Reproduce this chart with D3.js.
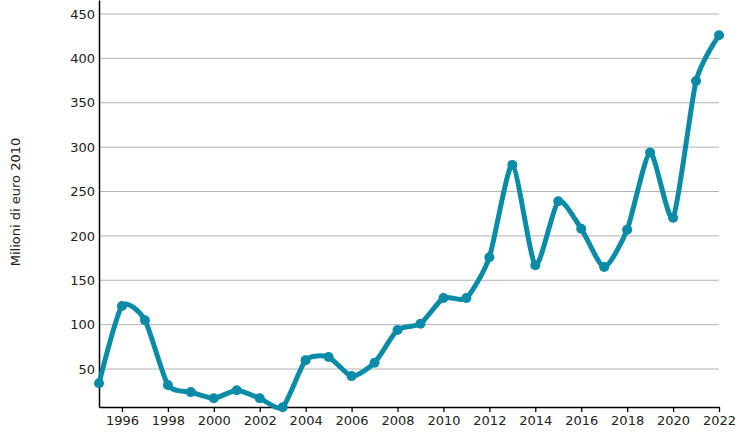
<!DOCTYPE html>
<html><head><meta charset="utf-8">
<script src="https://cdn.jsdelivr.net/npm/d3@7"></script>
<style>body{margin:0;background:#fff}svg{display:block;font-family:"DejaVu Sans",sans-serif}</style>
</head><body><svg id="c" width="753" height="439"></svg>
<script>
const years = [1995,1996,1997,1998,1999,2000,2001,2002,2003,2004,2005,2006,2007,2008,2009,2010,2011,2012,2013,2014,2015,2016,2017,2018,2019,2020,2021,2022];
const values = [34,121,105,32,24,17,26,17,7,60,63.5,42,57,94,101,130,130,176,280,167,239,208,165,207,294,220.5,374.5,426];
const yTicks = [50,100,150,200,250,300,350,400,450];
const xTicks = [1996,1998,2000,2002,2004,2006,2008,2010,2012,2014,2016,2018,2020,2022];
const yLabel = "Milioni di euro 2010";

const svg = d3.select("#c");
const L=99, R=719, T=0, B=407;
const x = d3.scaleLinear().domain([1995,2022]).range([L,R]);
const y = d3.scaleLinear().domain([7.2,465.8]).range([B,T]);

svg.append("g").selectAll("line").data(yTicks).join("line")
  .attr("x1",L).attr("x2",R).attr("y1",d=>y(d)).attr("y2",d=>y(d))
  .attr("stroke","#b3b3b3").attr("stroke-width",1);

const ya = svg.append("g").attr("transform",`translate(${L},0)`)
  .call(d3.axisLeft(y).tickValues(yTicks).tickSize(0).tickPadding(4));
ya.select(".domain").attr("stroke","#000").attr("stroke-width",1.5);
ya.selectAll("text").attr("font-size",13).attr("fill","#222").attr("font-family","DejaVu Sans");

const xa = svg.append("g").attr("transform",`translate(0,${B})`)
  .call(d3.axisBottom(x).tickValues(xTicks).tickFormat(d3.format("d")).tickSize(5).tickSizeOuter(0).tickPadding(4));
xa.select(".domain").attr("stroke","#000").attr("stroke-width",1.5);
xa.selectAll(".tick line").attr("stroke","#000").attr("stroke-width",1.3);
xa.selectAll("text").attr("font-size",13).attr("fill","#222").attr("font-family","DejaVu Sans");

svg.append("text").attr("transform","translate(20,202) rotate(-90)")
  .attr("text-anchor","middle").attr("font-size",13).attr("fill","#222").text(yLabel);

const data = years.map((yr,i)=>({yr,v:values[i]}));
svg.append("path").datum(data)
  .attr("d",d3.line().x(d=>x(d.yr)).y(d=>y(d.v)).curve(d3.curveCardinal.tension(0.35)))
  .attr("fill","none").attr("stroke","#0a8ba8").attr("stroke-width",5).attr("stroke-linejoin","round");
svg.append("g").selectAll("circle").data(data).join("circle")
  .attr("cx",d=>x(d.yr)).attr("cy",d=>y(d.v)).attr("r",5).attr("fill","#0a8ba8");
</script></body></html>
